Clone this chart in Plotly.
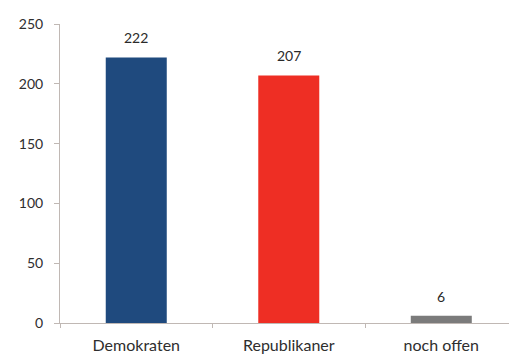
import plotly.graph_objects as go

# Sitzverteilung nach Partei
parteien = ["Demokraten", "Republikaner", "noch offen"]
sitze = [222, 207, 6]
farben = ["#1f4a7e", "#ee2e24", "#7b7b7b"]
y_ticks = [0, 50, 100, 150, 200, 250]

schrift = "Lato, Open Sans, sans-serif"

fig = go.Figure(
    go.Bar(
        x=parteien,
        y=sitze,
        marker=dict(color=farben, line=dict(width=0)),
        width=0.4,
        hoverinfo="skip",
    )
)

# Werte über den Balken
for p, s in zip(parteien, sitze):
    fig.add_annotation(
        x=p, y=s, text=str(s), showarrow=False,
        yanchor="bottom", yshift=9,
        font=dict(family=schrift, size=14, color="#2a2a2a"),
    )

fig.update_layout(
    width=509, height=354,
    margin=dict(l=60, r=0, t=24, b=31),
    paper_bgcolor="white", plot_bgcolor="white",
    showlegend=False,
    font=dict(family=schrift, size=14, color="#333333"),
    xaxis=dict(
        range=[-0.5, 2.444],
        showline=True, linecolor="#c0b8b4", linewidth=1,
        ticks="outside", tickson="boundaries", ticklen=4, tickcolor="#c0b8b4",
        showgrid=False, zeroline=False,
        ticklabelstandoff=8,
        tickfont=dict(family=schrift, size=16, color="#2e2e2e"),
    ),
    yaxis=dict(
        range=[0, 250],
        tickvals=y_ticks,
        showline=True, linecolor="#c0b8b4", linewidth=1,
        ticks="outside", ticklen=5, tickcolor="#c0b8b4",
        showgrid=False, zeroline=False,
        ticklabelstandoff=8,
        tickfont=dict(family=schrift, size=14, color="#2e2e2e"),
    ),
)

fig.write_html("out.html")
